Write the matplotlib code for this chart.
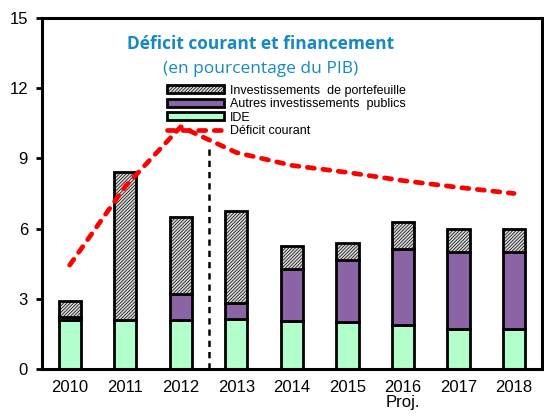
import numpy as np
import matplotlib
matplotlib.use("Agg")
import matplotlib.pyplot as plt
from matplotlib.patches import Patch
from matplotlib.lines import Line2D

years = ["2010", "2011", "2012", "2013", "2014", "2015", "2016\nProj.", "2017", "2018"]
ide = [2.10, 2.10, 2.10, 2.14, 2.06, 2.02, 1.88, 1.73, 1.73]
autres = [0.11, -0.10, 1.09, 0.69, 2.23, 2.63, 3.25, 3.25, 3.25]
portefeuille = [0.71, 6.33, 3.29, 3.91, 0.98, 0.73, 1.14, 1.01, 1.01]
deficit = [4.44, 7.8, 10.35, 9.25, 8.7, 8.4, 8.05, 7.76, 7.5]

plt.rcParams['font.family'] = ['Liberation Sans', 'DejaVu Sans']
plt.rcParams['hatch.linewidth'] = 0.5

fig = plt.figure(figsize=(5.44, 4.17), dpi=100)
ax = fig.add_axes([0.077, 0.115, 0.919, 0.842])

x = np.arange(len(years))
w = 0.40
ide = np.array(ide)
autres = np.array(autres)
portefeuille = np.array(portefeuille)

# positive parts stack on top of IDE, negative parts go below zero
autres_bottom = np.where(autres >= 0, ide, 0)
top_bottom = ide + np.clip(autres, 0, None)

ax.bar(x, ide, w, color='#B3FFCC', edgecolor='black', linewidth=2, zorder=2)
ax.bar(x, autres, w, bottom=autres_bottom, color='#8B64A6', edgecolor='black', linewidth=2, zorder=2)
ax.bar(x, portefeuille, w, bottom=top_bottom, color='#d8d8d8', edgecolor='black',
       hatch='//////////', linewidth=2, zorder=2)

ax.plot(x, deficit, color='#FF0000', linewidth=3.4, dashes=(1.5, 1.8),
        dash_capstyle='round', zorder=3)

# separation between history and projections
ax.plot([2.5, 2.5], [0, 9.5], color='black', linewidth=1.8, dashes=(2.5, 2), zorder=1)

ax.set_xlim(-0.5, 8.5)
ax.set_ylim(0, 15)
ax.set_yticks([0, 3, 6, 9, 12, 15])
ax.set_xticks(x)
ax.set_xticklabels(years, fontsize=12, linespacing=0.95)
ax.tick_params(axis='y', labelsize=12, width=2, length=4, direction='out', pad=6)
ax.tick_params(axis='x', length=0, pad=8)
for s in ax.spines.values():
    s.set_linewidth(2.2)

ax.text(0.437, 0.925, "Déficit courant et financement", transform=ax.transAxes,
        ha='center', va='center', fontsize=12.5, fontweight='bold',
        family='Open Sans', color='#168AC0')
ax.text(0.437, 0.855, "(en pourcentage du PIB)", transform=ax.transAxes,
        ha='center', va='center', fontsize=12.5, family='Open Sans', color='#168AC0')

handles = [
    Patch(facecolor='#d8d8d8', edgecolor='black', hatch='//////////', linewidth=2),
    Patch(facecolor='#8B64A6', edgecolor='black', linewidth=2),
    Patch(facecolor='#B3FFCC', edgecolor='black', linewidth=2),
    Line2D([0], [0], color='#FF0000', linewidth=3.4, dashes=(1.5, 1.8), dash_capstyle='round'),
]
labels = ["Investissements  de portefeuille", "Autres investissements  publics",
          "IDE", "Déficit courant"]
ax.legend(handles, labels, loc='upper left', bbox_to_anchor=(0.25, 0.81),
          frameon=False, fontsize=9, handlelength=4.6, handleheight=0.65,
          labelspacing=0.12, handletextpad=0.45, borderpad=0, borderaxespad=0)

fig.savefig("out.png", dpi=100)
